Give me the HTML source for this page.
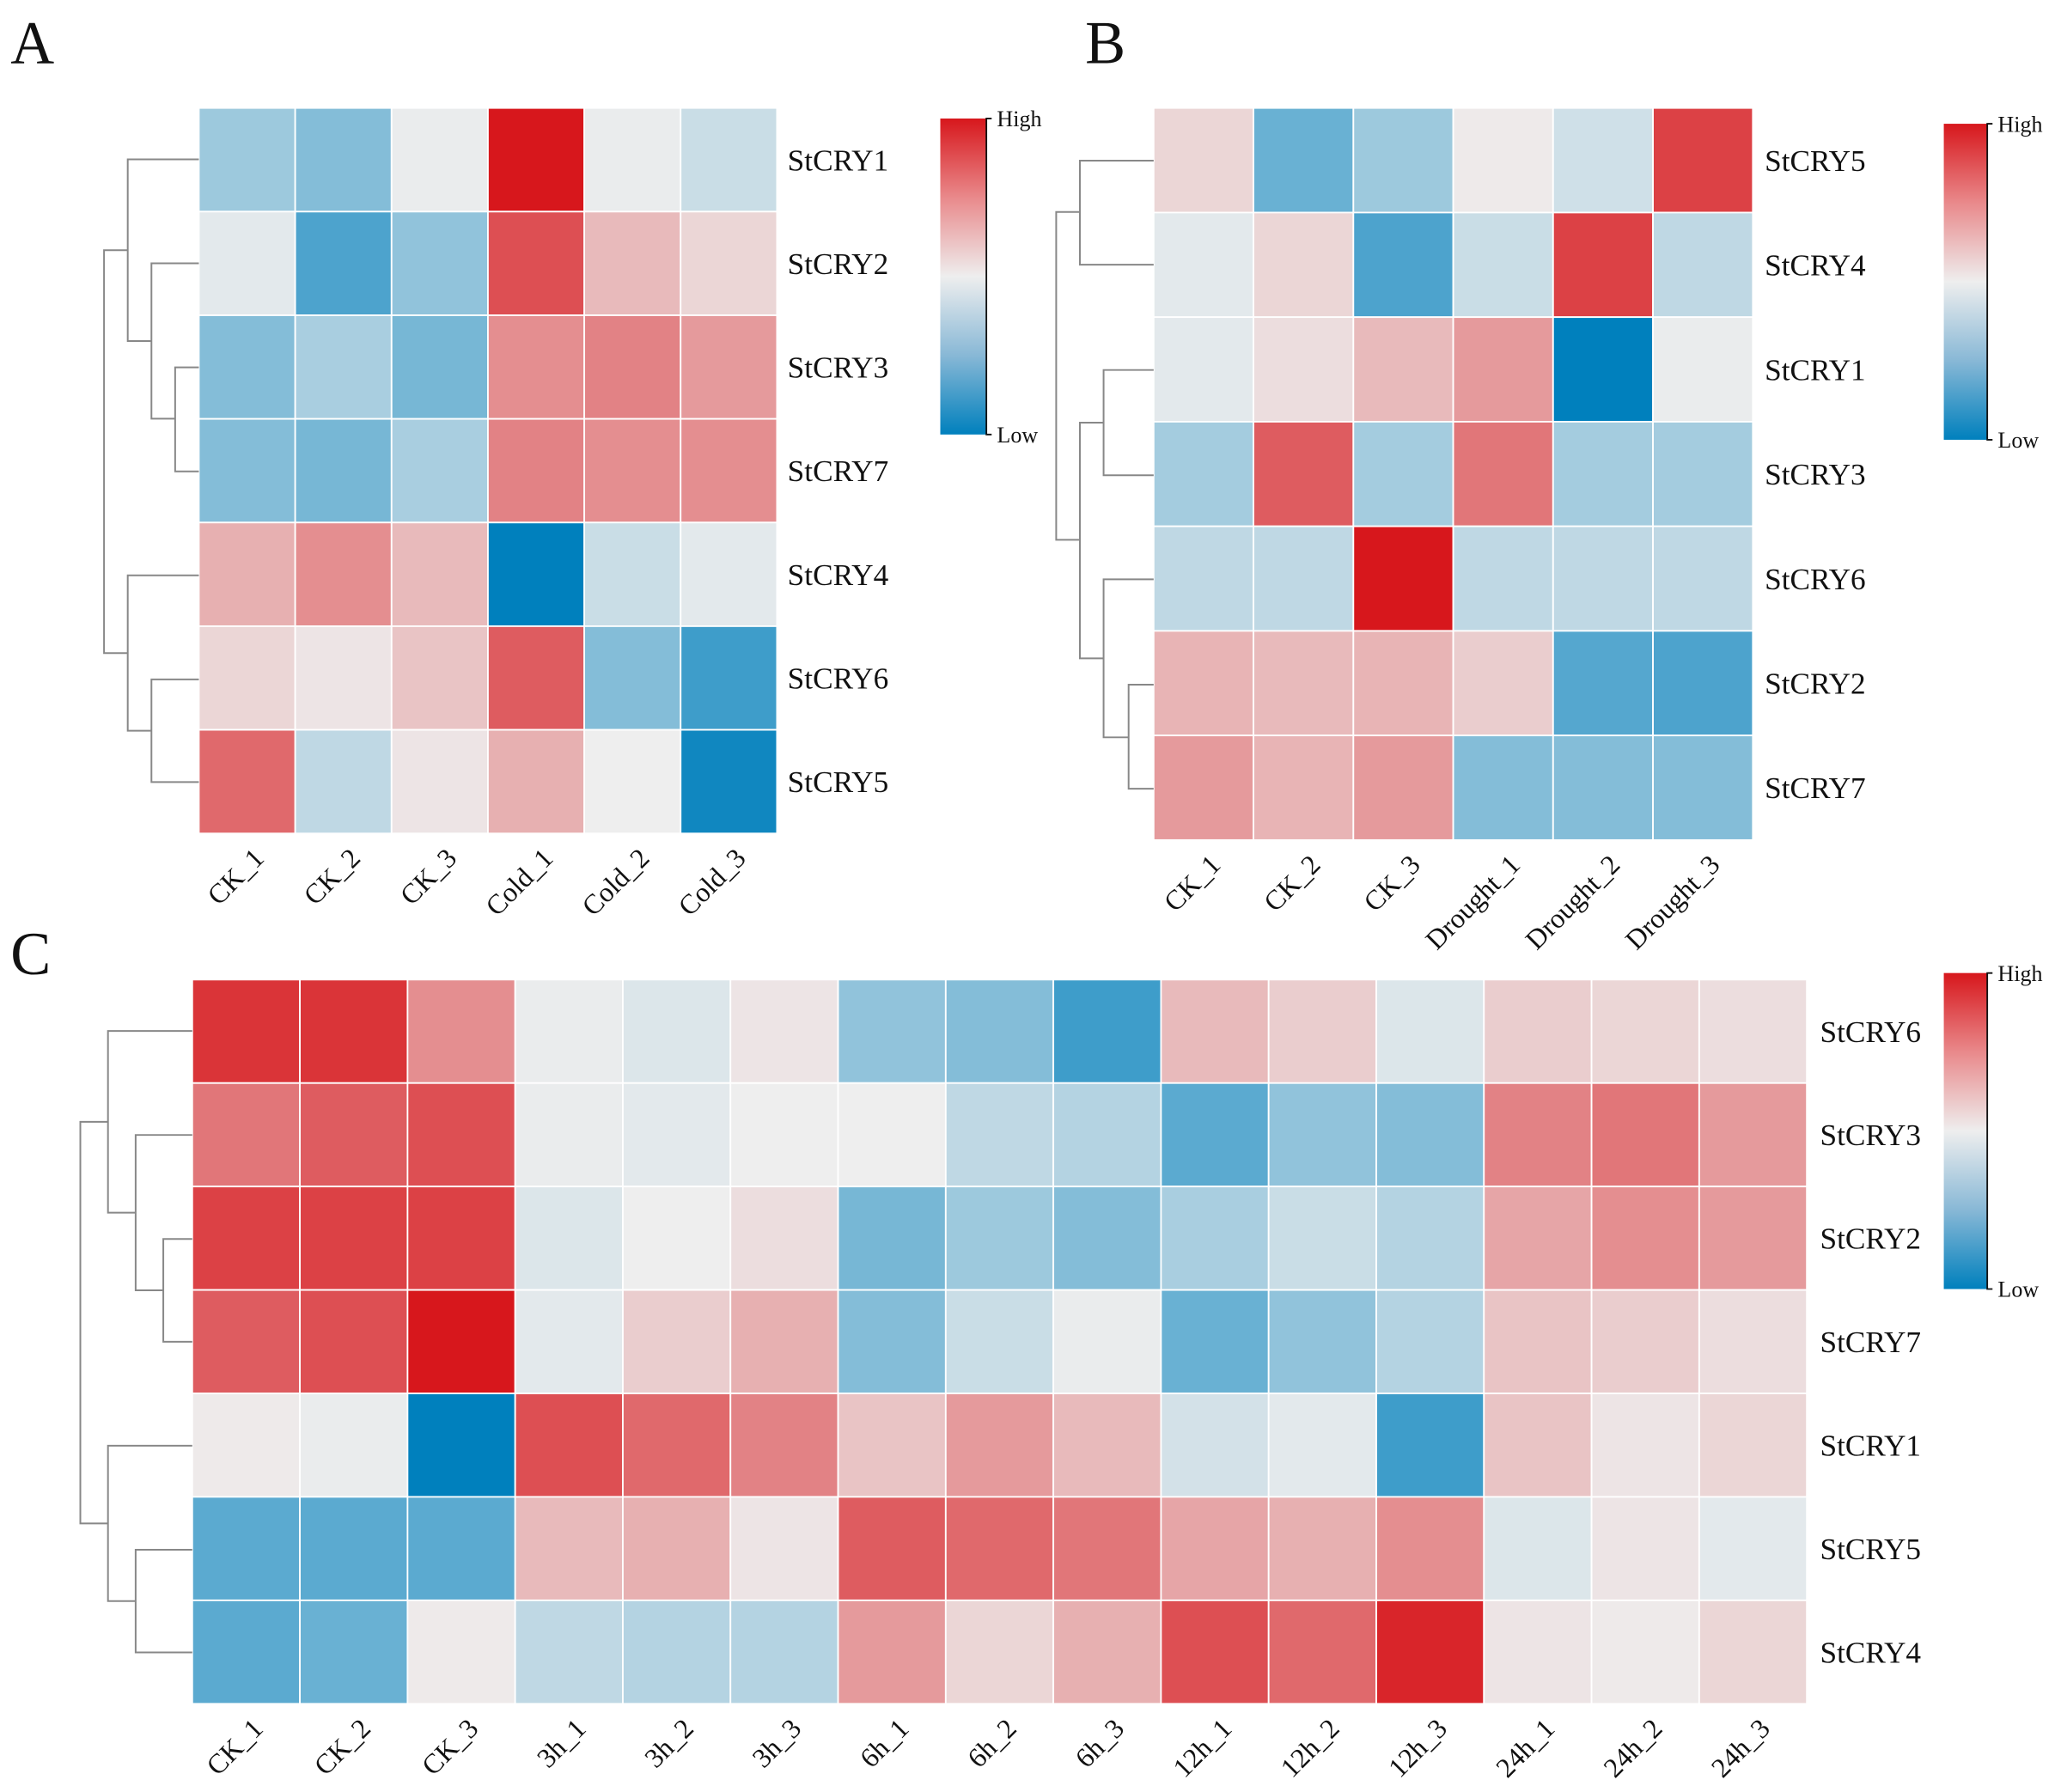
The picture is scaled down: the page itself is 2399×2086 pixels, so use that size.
<!DOCTYPE html>
<html><head><meta charset="utf-8">
<style>
html,body{margin:0;padding:0;background:#fff;}
svg{display:block;}
text{font-family:"Liberation Serif",serif;fill:#111;}
</style></head>
<body>
<svg id="fig" width="2399" height="2086" viewBox="0 0 1565 1361" preserveAspectRatio="none" xmlns="http://www.w3.org/2000/svg">
<defs>
<linearGradient id="cbar" x1="0" y1="0" x2="0" y2="1">
<stop offset="0" stop-color="#d7171c"/><stop offset="0.25" stop-color="#e9898b"/><stop offset="0.5" stop-color="#eeeeee"/><stop offset="0.75" stop-color="#88b8d6"/><stop offset="1" stop-color="#0080bd"/>
</linearGradient>
</defs>
</svg>
<script>
// Panel A data
const rowsA = ["StCRY1","StCRY2","StCRY3","StCRY7","StCRY4","StCRY6","StCRY5"];
const colsA = ["CK_1","CK_2","CK_3","Cold_1","Cold_2","Cold_3"];
const valsA = [
[-0.45,-0.55,-0.05,1.0,-0.05,-0.25],
[-0.1,-0.75,-0.5,0.8,0.35,0.2],
[-0.55,-0.4,-0.6,0.55,0.6,0.5],
[-0.55,-0.6,-0.4,0.6,0.55,0.55],
[0.4,0.55,0.35,-1,-0.25,-0.1],
[0.2,0.1,0.3,0.75,-0.55,-0.8],
[0.7,-0.3,0.1,0.4,0.0,-0.95]];
// Panel B data
const rowsB = ["StCRY5","StCRY4","StCRY1","StCRY3","StCRY6","StCRY2","StCRY7"];
const colsB = ["CK_1","CK_2","CK_3","Drought_1","Drought_2","Drought_3"];
const valsB = [
[0.2,-0.65,-0.45,0.05,-0.22,0.85],
[-0.1,0.2,-0.75,-0.25,0.85,-0.3],
[-0.1,0.15,0.35,0.5,-1,-0.05],
[-0.42,0.75,-0.42,0.65,-0.42,-0.42],
[-0.3,-0.3,1.0,-0.3,-0.3,-0.3],
[0.38,0.35,0.38,0.25,-0.72,-0.75],
[0.5,0.38,0.5,-0.55,-0.55,-0.55]];
// Panel C data
const rowsC = ["StCRY6","StCRY3","StCRY2","StCRY7","StCRY1","StCRY5","StCRY4"];
const colsC = ["CK_1","CK_2","CK_3","3h_1","3h_2","3h_3","6h_1","6h_2","6h_3","12h_1","12h_2","12h_3","24h_1","24h_2","24h_3"];
const valsC = [
[0.9,0.9,0.55,-0.05,-0.15,0.1,-0.5,-0.55,-0.8,0.35,0.25,-0.15,0.25,0.2,0.15],
[0.65,0.75,0.8,-0.05,-0.1,0.0,0.0,-0.3,-0.35,-0.7,-0.5,-0.55,0.6,0.65,0.5],
[0.85,0.85,0.85,-0.15,0.0,0.15,-0.6,-0.45,-0.55,-0.4,-0.25,-0.35,0.45,0.55,0.5],
[0.75,0.8,1.0,-0.1,0.25,0.4,-0.55,-0.25,-0.05,-0.65,-0.5,-0.35,0.3,0.25,0.15],
[0.05,-0.05,-1.0,0.8,0.7,0.6,0.3,0.5,0.35,-0.2,-0.1,-0.8,0.3,0.1,0.2],
[-0.7,-0.7,-0.7,0.35,0.4,0.1,0.75,0.7,0.65,0.45,0.4,0.55,-0.15,0.1,-0.1],
[-0.7,-0.65,0.05,-0.3,-0.35,-0.35,0.5,0.2,0.4,0.8,0.7,0.95,0.1,0.05,0.2]];

const NS="http://www.w3.org/2000/svg";
const svg=document.getElementById('fig');
function el(t,a,p){const e=document.createElementNS(NS,t);for(const k in a)e.setAttribute(k,a[k]);(p||svg).appendChild(e);return e;}
function mix(a,b,t){return a.map((v,i)=>Math.round(v+(b[i]-v)*t));}
function color(v){const lo=[0,128,189],mid=[238,238,238],hi=[215,23,28];
 v=Math.max(-1,Math.min(1,v));const t=Math.pow(Math.abs(v),1.35);const c=v<0?mix(mid,lo,t):mix(mid,hi,t);return `rgb(${c[0]},${c[1]},${c[2]})`;}

function heat(name,rows,cols,vals,x0,y0,x1,y1,labX,fs,colFs){
 const g=el('g',{});
 
 
 const cw=(x1-x0)/cols.length, rh=(y1-y0)/rows.length;
 const xs=j=>x0+j*cw, ys=i=>y0+i*rh;
 vals.forEach((r,i)=>r.forEach((v,j)=>{
  const c=el('rect',{x:xs(j),y:ys(i),width:cw,height:rh,fill:color(v),stroke:'#fff','stroke-width':1.2},g);
  
  
 }));
 rows.forEach((r,i)=>{
  const t=el('text',{x:labX,y:ys(i)+rh/2+8,'font-size':fs},g);t.textContent=r;
  
  
 });
 cols.forEach((c,j)=>{
  const cx=xs(j)+cw/2+14, cy=y1+20;
  const t=el('text',{x:cx,y:cy,'font-size':colFs,'text-anchor':'end',transform:`rotate(-45 ${cx} ${cy})`},g);t.textContent=c;
  
  
 });
}
heat('panel-a',rowsA,colsA,valsA,151,82,590,633,598,23,21);
heat('panel-b',rowsB,colsB,valsB,876,82,1331,638,1340,23,21);
heat('panel-c',rowsC,colsC,valsC,146,744,1372,1294,1382,23,21);

function dendro(name,segs){
 const g=el('g',{stroke:'#888','stroke-width':1.3,fill:'none'});
 
 
 segs.forEach(s=>el('path',{d:s},g));
}
dendro('panel-a-dendrogram',[
'M151 279H133V358H151','M151 200H115V318H133','M151 121H97V259H115',
'M151 516H115V594H151','M151 437H97V555H115','M97 190H79V496H97']);
dendro('panel-b-dendrogram',[
'M876 122H820V201H876','M876 281H838V361H876','M876 520H857V599H876',
'M876 440H838V560H857','M838 321H820V500H838','M820 161H802V410H820']);
dendro('panel-c-dendrogram',[
'M146 941H124V1019H146','M146 862H103V980H124','M146 783H82V921H103',
'M146 1177H103V1255H146','M146 1098H82V1216H103','M82 852H61V1157H82']);

function cbar(name,x,y,w,h){
 const g=el('g',{});
 
 
 el('rect',{x:x,y:y,width:w,height:h,fill:'url(#cbar)'},g);
 el('path',{d:`M${x+w+4} ${y}H${x+w}V${y+h}H${x+w+4}`,stroke:'#111','stroke-width':1.2,fill:'none'},g);
 const t1=el('text',{x:x+w+8,y:y+6,'font-size':17},g);t1.textContent='High';
 const t2=el('text',{x:x+w+8,y:y+h+6,'font-size':17},g);t2.textContent='Low';
}
cbar('panel-a-colorbar',714,90,35,240);
cbar('panel-b-colorbar',1476,94,33,240);
cbar('panel-c-colorbar',1476,739,33,240);

[['A',8,48],['B',824,48],['C',8,740]].forEach(p=>{
 const t=el('text',{x:p[1],y:p[2],'font-size':46});t.textContent=p[0];
 
 
});
</script>
</body></html>
